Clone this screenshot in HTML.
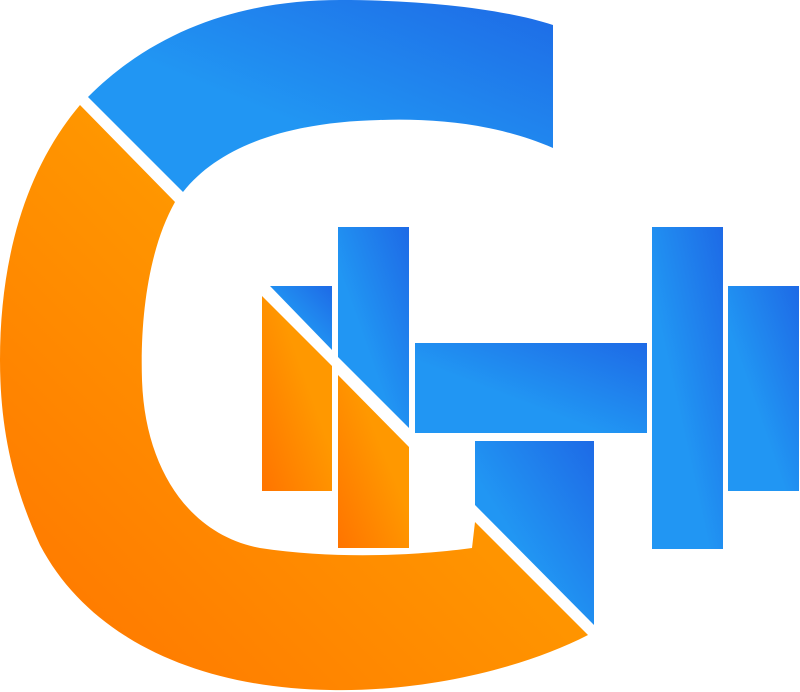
<!DOCTYPE html>
<html><head><meta charset="utf-8"><style>html,body{margin:0;padding:0;background:#fff;width:800px;height:692px;overflow:hidden}</style></head>
<body>
<svg width="800" height="692" viewBox="0 0 800 692">
<defs>
<linearGradient id="bl" x1="0" y1="1" x2="1" y2="0"><stop offset="0.4" stop-color="#2196f3"/><stop offset="1" stop-color="#1e6ae6"/></linearGradient>
<linearGradient id="or" x1="0" y1="1" x2="1" y2="0"><stop offset="0" stop-color="#ff7400"/><stop offset="0.6" stop-color="#ff9800"/></linearGradient>
</defs>
<path fill="url(#bl)" d="M88,97 C160,25 250,0 340,0 C420,0 500,8 553,25 L553,148 C500,125 440,118 380,120 C290,122 220,145 183,192 Z"/>
<path fill="url(#or)" d="M80,105 L175,202 C148,250 140,320 142,380 C145,470 190,535 260,548 C340,560 420,555 472,548 L475,522 L588,635 C520,670 420,692 330,690 C200,688 90,640 40,545 C10,480 0,420 0,360 C0,260 25,170 80,105 Z"/>
<polygon fill="url(#bl)" points="270,286 332,286 332,350"/>
<polygon fill="url(#or)" points="262,296 332,366 332,491 262,491"/>
<polygon fill="url(#bl)" points="338,227 409,227 409,428 338,357"/>
<polygon fill="url(#or)" points="338,375 409,447 409,548 338,548"/>
<rect fill="url(#bl)" x="415" y="343" width="232" height="90"/>
<polygon fill="url(#bl)" points="475,441 594,441 594,625 475,505"/>
<rect fill="url(#bl)" x="652" y="227" width="71" height="322"/>
<rect fill="url(#bl)" x="728" y="286" width="71" height="205"/>
</svg>
</body></html>
